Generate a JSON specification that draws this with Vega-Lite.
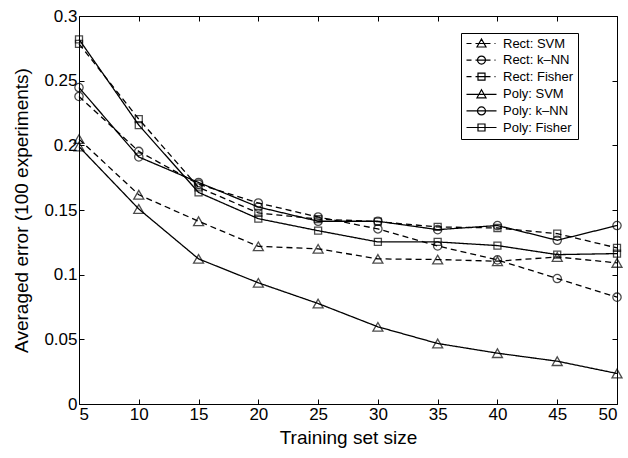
{
  "$schema": "https://vega.github.io/schema/vega-lite/v6.json",
  "width": 538,
  "height": 388,
  "autosize": {"type": "none"},
  "padding": {"left": 79, "top": 16, "right": 11, "bottom": 54},
  "background": "white",
  "data": {
    "values": [
      {"series": "Rect: SVM", "feature": "Rect", "classifier": "SVM", "n": 5, "err": 0.2048},
      {"series": "Rect: SVM", "feature": "Rect", "classifier": "SVM", "n": 10, "err": 0.1618},
      {"series": "Rect: SVM", "feature": "Rect", "classifier": "SVM", "n": 15, "err": 0.1413},
      {"series": "Rect: SVM", "feature": "Rect", "classifier": "SVM", "n": 20, "err": 0.1219},
      {"series": "Rect: SVM", "feature": "Rect", "classifier": "SVM", "n": 25, "err": 0.1200},
      {"series": "Rect: SVM", "feature": "Rect", "classifier": "SVM", "n": 30, "err": 0.1122},
      {"series": "Rect: SVM", "feature": "Rect", "classifier": "SVM", "n": 35, "err": 0.1117},
      {"series": "Rect: SVM", "feature": "Rect", "classifier": "SVM", "n": 40, "err": 0.1104},
      {"series": "Rect: SVM", "feature": "Rect", "classifier": "SVM", "n": 45, "err": 0.1137},
      {"series": "Rect: SVM", "feature": "Rect", "classifier": "SVM", "n": 50, "err": 0.1091},
      {"series": "Rect: k–NN", "feature": "Rect", "classifier": "k–NN", "n": 5, "err": 0.2378},
      {"series": "Rect: k–NN", "feature": "Rect", "classifier": "k–NN", "n": 10, "err": 0.1953},
      {"series": "Rect: k–NN", "feature": "Rect", "classifier": "k–NN", "n": 15, "err": 0.1700},
      {"series": "Rect: k–NN", "feature": "Rect", "classifier": "k–NN", "n": 20, "err": 0.1554},
      {"series": "Rect: k–NN", "feature": "Rect", "classifier": "k–NN", "n": 25, "err": 0.1446},
      {"series": "Rect: k–NN", "feature": "Rect", "classifier": "k–NN", "n": 30, "err": 0.1354},
      {"series": "Rect: k–NN", "feature": "Rect", "classifier": "k–NN", "n": 35, "err": 0.1222},
      {"series": "Rect: k–NN", "feature": "Rect", "classifier": "k–NN", "n": 40, "err": 0.1114},
      {"series": "Rect: k–NN", "feature": "Rect", "classifier": "k–NN", "n": 45, "err": 0.0970},
      {"series": "Rect: k–NN", "feature": "Rect", "classifier": "k–NN", "n": 50, "err": 0.0826},
      {"series": "Rect: Fisher", "feature": "Rect", "classifier": "Fisher", "n": 5, "err": 0.2785},
      {"series": "Rect: Fisher", "feature": "Rect", "classifier": "Fisher", "n": 10, "err": 0.2203},
      {"series": "Rect: Fisher", "feature": "Rect", "classifier": "Fisher", "n": 15, "err": 0.1675},
      {"series": "Rect: Fisher", "feature": "Rect", "classifier": "Fisher", "n": 20, "err": 0.1477},
      {"series": "Rect: Fisher", "feature": "Rect", "classifier": "Fisher", "n": 25, "err": 0.1430},
      {"series": "Rect: Fisher", "feature": "Rect", "classifier": "Fisher", "n": 30, "err": 0.1410},
      {"series": "Rect: Fisher", "feature": "Rect", "classifier": "Fisher", "n": 35, "err": 0.1369},
      {"series": "Rect: Fisher", "feature": "Rect", "classifier": "Fisher", "n": 40, "err": 0.1361},
      {"series": "Rect: Fisher", "feature": "Rect", "classifier": "Fisher", "n": 45, "err": 0.1317},
      {"series": "Rect: Fisher", "feature": "Rect", "classifier": "Fisher", "n": 50, "err": 0.1207},
      {"series": "Poly: SVM", "feature": "Poly", "classifier": "SVM", "n": 5, "err": 0.1990},
      {"series": "Poly: SVM", "feature": "Poly", "classifier": "SVM", "n": 10, "err": 0.1508},
      {"series": "Poly: SVM", "feature": "Poly", "classifier": "SVM", "n": 15, "err": 0.1122},
      {"series": "Poly: SVM", "feature": "Poly", "classifier": "SVM", "n": 20, "err": 0.0937},
      {"series": "Poly: SVM", "feature": "Poly", "classifier": "SVM", "n": 25, "err": 0.0777},
      {"series": "Poly: SVM", "feature": "Poly", "classifier": "SVM", "n": 30, "err": 0.0597},
      {"series": "Poly: SVM", "feature": "Poly", "classifier": "SVM", "n": 35, "err": 0.0468},
      {"series": "Poly: SVM", "feature": "Poly", "classifier": "SVM", "n": 40, "err": 0.0393},
      {"series": "Poly: SVM", "feature": "Poly", "classifier": "SVM", "n": 45, "err": 0.0331},
      {"series": "Poly: SVM", "feature": "Poly", "classifier": "SVM", "n": 50, "err": 0.0236},
      {"series": "Poly: k–NN", "feature": "Poly", "classifier": "k–NN", "n": 5, "err": 0.2447},
      {"series": "Poly: k–NN", "feature": "Poly", "classifier": "k–NN", "n": 10, "err": 0.1910},
      {"series": "Poly: k–NN", "feature": "Poly", "classifier": "k–NN", "n": 15, "err": 0.1713},
      {"series": "Poly: k–NN", "feature": "Poly", "classifier": "k–NN", "n": 20, "err": 0.1523},
      {"series": "Poly: k–NN", "feature": "Poly", "classifier": "k–NN", "n": 25, "err": 0.1413},
      {"series": "Poly: k–NN", "feature": "Poly", "classifier": "k–NN", "n": 30, "err": 0.1413},
      {"series": "Poly: k–NN", "feature": "Poly", "classifier": "k–NN", "n": 35, "err": 0.1348},
      {"series": "Poly: k–NN", "feature": "Poly", "classifier": "k–NN", "n": 40, "err": 0.1380},
      {"series": "Poly: k–NN", "feature": "Poly", "classifier": "k–NN", "n": 45, "err": 0.1266},
      {"series": "Poly: k–NN", "feature": "Poly", "classifier": "k–NN", "n": 50, "err": 0.1380},
      {"series": "Poly: Fisher", "feature": "Poly", "classifier": "Fisher", "n": 5, "err": 0.2820},
      {"series": "Poly: Fisher", "feature": "Poly", "classifier": "Fisher", "n": 10, "err": 0.2157},
      {"series": "Poly: Fisher", "feature": "Poly", "classifier": "Fisher", "n": 15, "err": 0.1636},
      {"series": "Poly: Fisher", "feature": "Poly", "classifier": "Fisher", "n": 20, "err": 0.1433},
      {"series": "Poly: Fisher", "feature": "Poly", "classifier": "Fisher", "n": 25, "err": 0.1340},
      {"series": "Poly: Fisher", "feature": "Poly", "classifier": "Fisher", "n": 30, "err": 0.1253},
      {"series": "Poly: Fisher", "feature": "Poly", "classifier": "Fisher", "n": 35, "err": 0.1253},
      {"series": "Poly: Fisher", "feature": "Poly", "classifier": "Fisher", "n": 40, "err": 0.1225},
      {"series": "Poly: Fisher", "feature": "Poly", "classifier": "Fisher", "n": 45, "err": 0.1155},
      {"series": "Poly: Fisher", "feature": "Poly", "classifier": "Fisher", "n": 50, "err": 0.1163}
    ]
  },
  "layer": [
    {
      "mark": {"type": "line", "color": "black", "strokeWidth": 1.3},
      "encoding": {
        "x": {"field": "n", "type": "quantitative", "scale": {"domain": [5, 50], "nice": false, "zero": false},
              "axis": {"orient": "bottom", "title": "Training set size", "values": [5,10,15,20,25,30,35,40,45,50], "format": "d", "titlePadding": 6}},
        "y": {"field": "err", "type": "quantitative", "scale": {"domain": [0, 0.3], "nice": false},
              "axis": {"orient": "left", "title": "Averaged error (100 experiments)", "values": [0,0.05,0.1,0.15,0.2,0.25,0.3], "format": ".2~f", "titlePadding": 12}},
        "detail": {"field": "series", "type": "nominal"},
        "strokeDash": {"field": "feature", "type": "nominal", "legend": null,
          "scale": {"domain": ["Rect", "Poly"], "range": [[6, 4], [1, 0]]}}
      }
    },
    {
      "mark": {"type": "point", "filled": false, "color": "black", "strokeWidth": 1.3, "size": 100},
      "encoding": {
        "x": {"field": "n", "type": "quantitative",
              "axis": {"orient": "top", "labels": false, "title": null, "values": [5,10,15,20,25,30,35,40,45,50]}},
        "y": {"field": "err", "type": "quantitative",
              "axis": {"orient": "right", "labels": false, "title": null, "values": [0,0.05,0.1,0.15,0.2,0.25,0.3]}},
        "shape": {"field": "classifier", "type": "nominal", "legend": null,
          "scale": {"domain": ["SVM", "k–NN", "Fisher"],
                    "range": ["triangle-up", "M0.83,0A0.83,0.83,0,1,1,-0.83,0A0.83,0.83,0,1,1,0.83,0", "M-0.7,-0.7L0.7,-0.7L0.7,0.7L-0.7,0.7Z"]}}
      }
    },
    {
      "transform": [{"filter": "false"}],
      "mark": {"type": "point", "filled": false, "color": "black", "strokeWidth": 1.2},
      "encoding": {
        "x": {"field": "n", "type": "quantitative", "axis": null},
        "y": {"field": "err", "type": "quantitative", "axis": null},
        "shape": {"field": "series", "type": "nominal",
          "scale": {"domain": ["Rect: SVM","Rect: k–NN","Rect: Fisher","Poly: SVM","Poly: k–NN","Poly: Fisher"],
                    "range": [
                      "M-3,0L-2,0M-1.2,0L1.8,0M2.6,0L2.8,0M0,-0.9L0.9,0.7L-0.9,0.7Z",
                      "M-3,0L-2,0M-1.2,0L1.8,0M2.6,0L2.8,0M0.8,0A0.8,0.8,0,1,1,-0.8,0A0.8,0.8,0,1,1,0.8,0",
                      "M-3,0L-2,0M-1.2,0L1.8,0M2.6,0L2.8,0M-0.7,-0.7L0.7,-0.7L0.7,0.7L-0.7,0.7Z",
                      "M-3,0L3,0M0,-0.9L0.9,0.7L-0.9,0.7Z",
                      "M-3,0L3,0M0.8,0A0.8,0.8,0,1,1,-0.8,0A0.8,0.8,0,1,1,0.8,0",
                      "M-3,0L3,0M-0.7,-0.7L0.7,-0.7L0.7,0.7L-0.7,0.7Z"
                    ]},
          "legend": {
            "orient": "none", "legendX": 382, "legendY": 17, "title": null,
            "strokeColor": "black", "fillColor": "white", "padding": 4,
            "labelFont": "Liberation Sans", "labelFontSize": 13, "labelColor": "black",
            "symbolSize": 100, "symbolOffset": 10, "labelOffset": 15, "rowPadding": 2.6,
            "symbolStrokeColor": "black", "symbolFillColor": "transparent", "symbolStrokeWidth": 1.2,
            "symbolOpacity": 1
          }}
      }
    }
  ],
  "resolve": {"axis": {"x": "independent", "y": "independent"}, "scale": {"shape": "independent"}},
  "config": {
    "font": "Liberation Sans",
    "view": {"stroke": null},
    "axis": {
      "grid": false, "domainColor": "black", "domainWidth": 1, "tickColor": "black", "tickWidth": 1,
      "tickSize": -5, "labelColor": "black", "titleColor": "black",
      "labelFontSize": 17, "titleFontSize": 19, "titleFontWeight": "normal", "labelPadding": 7
    }
  }
}
